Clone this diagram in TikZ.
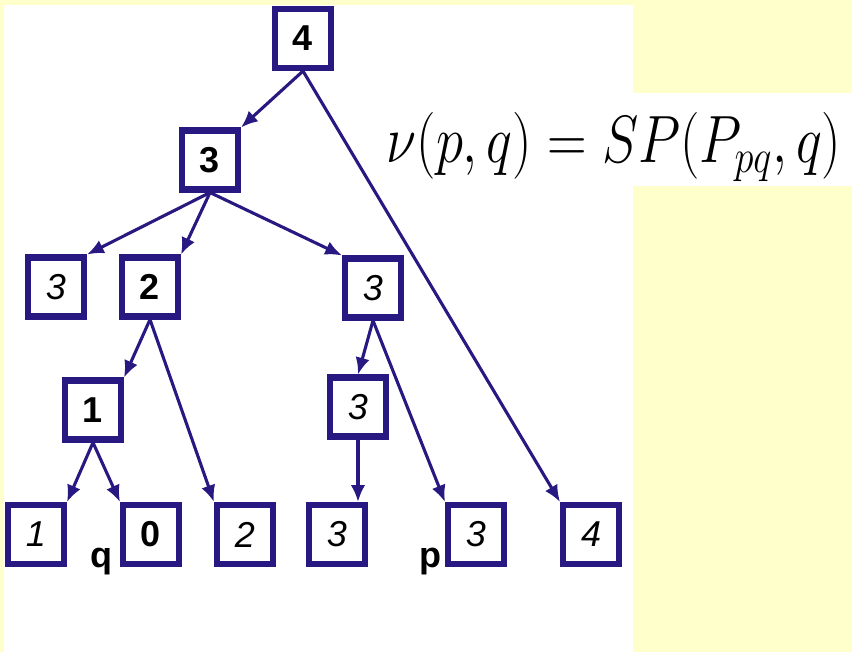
\documentclass[tikz,border=0pt]{standalone}
\usepackage{fix-cm}
\usepackage{graphicx}
\usepackage{fontspec}
\setsansfont{Liberation Sans}
\usetikzlibrary{arrows.meta,calc,positioning}
\definecolor{cbox}{RGB}{40,25,130}
\definecolor{cbg}{RGB}{255,255,204}
\tikzset{
  box/.style={rectangle,draw=cbox,line width=4.3pt,fill=white,
    minimum width=1.4cm,minimum height=1.475cm,inner sep=0pt,
    font=\fontsize{25.6}{30}\selectfont\sffamily\bfseries},
  ibox/.style={box,font=\fontsize{25.6}{30}\selectfont\sffamily\itshape},
  lab/.style={inner sep=0pt,anchor=base,
    font=\fontsize{25.6}{30}\selectfont\sffamily\bfseries},
  arr/.style={-{Latex[length=0.42cm,width=0.36cm]},draw=cbox,line width=2.2pt}
}

\begin{document}
\begin{tikzpicture}[x=0.025cm,y=-0.025cm]
  % page: yellow slide, white panel
  \useasboundingbox (0,0) rectangle (852,652);
  \fill[cbg] (0,0) rectangle (852,652);
  \fill[white] (4,5) rectangle (633,652);
  \fill[white] (633,93) rectangle (852,186);
  \node[font=\fontsize{39}{44}\selectfont] (eq) at (614,147)
    {\scalebox{1}[1.22]{$\nu(p,q) = SP(P_{pq},q)$}};
  % tree
  \node[box]  (r4) at (303,38.5) {4};
  \node[box]  (n3) at (210,160) {3};
  \node[ibox] (a3) at (56,287) {3};
  \node[box]  (b2) at (150,287) {2};
  \node[ibox] (c3) at (373,288) {3};
  \node[box]  (d1) at (93,410) {1};
  \node[ibox] (e3) at (358,407) {3};
  \node[ibox] (l1) at (36,534.5) {1};
  \node[box]  (l0) at (151,534.5) {0};
  \node[ibox] (l2) at (245,534.5) {2};
  \node[ibox] (l3) at (337,534.5) {3};
  \node[ibox] (lp) at (476,534.5) {3};
  \node[ibox] (l4) at (591,534.5) {4};
  \node[lab] (q) at (101,567) {q};
  \node[lab] (p) at (430,567) {p};
  \draw[arr] (r4.south) -- (n3.north east);
  \draw[arr] (r4.south) -- (l4.north west);
  \draw[arr] (n3.south) -- (a3.north east);
  \draw[arr] (n3.south) -- (b2.north east);
  \draw[arr] (n3.south) -- (c3.north west);
  \draw[arr] (b2.south) -- (d1.north east);
  \draw[arr] (b2.south) -- (l2.north west);
  \draw[arr] (c3.south) -- (e3.north);
  \draw[arr] (c3.south) -- (lp.north west);
  \draw[arr] (d1.south) -- (l1.north east);
  \draw[arr] (d1.south) -- (l0.north west);
  \draw[arr] (e3.south) -- (e3.south |- l3.north);
\end{tikzpicture}
\end{document}
